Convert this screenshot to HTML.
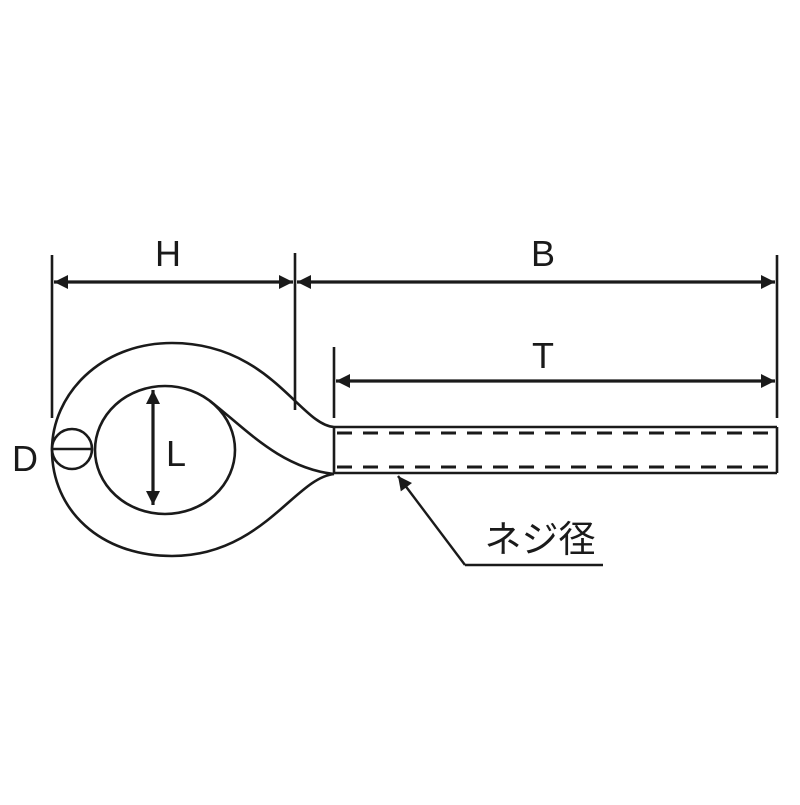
<!DOCTYPE html>
<html><head><meta charset="utf-8"><style>html,body{margin:0;padding:0;background:#fff}</style></head>
<body>
<svg width="800" height="800" viewBox="0 0 800 800" xmlns="http://www.w3.org/2000/svg">
<defs>
<marker id="a" viewBox="0 0 10 10" refX="10" refY="5" markerWidth="22" markerHeight="14" markerUnits="userSpaceOnUse" orient="auto-start-reverse"><path d="M0,0 L10,5 L0,10 z" fill="#1a1a1a"/></marker>
</defs>
<g stroke="#1a1a1a" fill="none" stroke-width="2.6">
<line x1="52" y1="255" x2="52" y2="418"/>
<line x1="295" y1="253" x2="295" y2="410"/>
<line x1="334" y1="347" x2="334" y2="418"/>
<line x1="777" y1="255" x2="777" y2="418"/>
<line x1="54" y1="282" x2="293" y2="282" stroke-width="3.2" marker-start="url(#a)" marker-end="url(#a)"/>
<line x1="297" y1="282" x2="775" y2="282" stroke-width="3.2" marker-start="url(#a)" marker-end="url(#a)"/>
<line x1="336" y1="381" x2="775" y2="381" stroke-width="3.2" marker-start="url(#a)" marker-end="url(#a)"/>
<line x1="153" y1="390" x2="153" y2="505" stroke-width="3.2" marker-start="url(#a)" marker-end="url(#a)"/>
<path d="M334,427 C300,425 270,343 172,343 C100,343 52,395 52,450 C52,510 100,556 172,556 C262,556 295,478 334,474"/>
<ellipse cx="165" cy="450" rx="70" ry="64"/>
<path d="M210,401 C245,428 280,468 334,474"/>
<circle cx="72" cy="449" r="20" fill="#fff"/>
<line x1="52" y1="449" x2="92" y2="449"/>
<line x1="334" y1="427" x2="777" y2="427"/>
<line x1="334" y1="473" x2="777" y2="473"/>
<line x1="777" y1="427" x2="777" y2="473"/>
<line x1="334" y1="427" x2="334" y2="473"/>
<line x1="337" y1="433" x2="777" y2="433" stroke-width="3" stroke-dasharray="15 11"/>
<line x1="337" y1="467" x2="777" y2="467" stroke-width="3" stroke-dasharray="15 11"/>
<line x1="465" y1="565" x2="398" y2="476" stroke-width="2.4" marker-end="url(#a)"/>
<line x1="465" y1="565" x2="603" y2="565"/>
</g>
<g font-family="Liberation Sans, sans-serif" font-size="36" fill="#1a1a1a" text-anchor="middle">
<text x="168" y="266">H</text>
<text x="543" y="266">B</text>
<text x="543" y="368">T</text>
<text x="176" y="466">L</text>
<text x="25" y="471">D</text>
<text x="540" y="552" font-family="Liberation Sans, 'Noto Sans CJK JP', sans-serif" font-size="37">ネジ径</text>
</g>
</svg>
</body></html>
